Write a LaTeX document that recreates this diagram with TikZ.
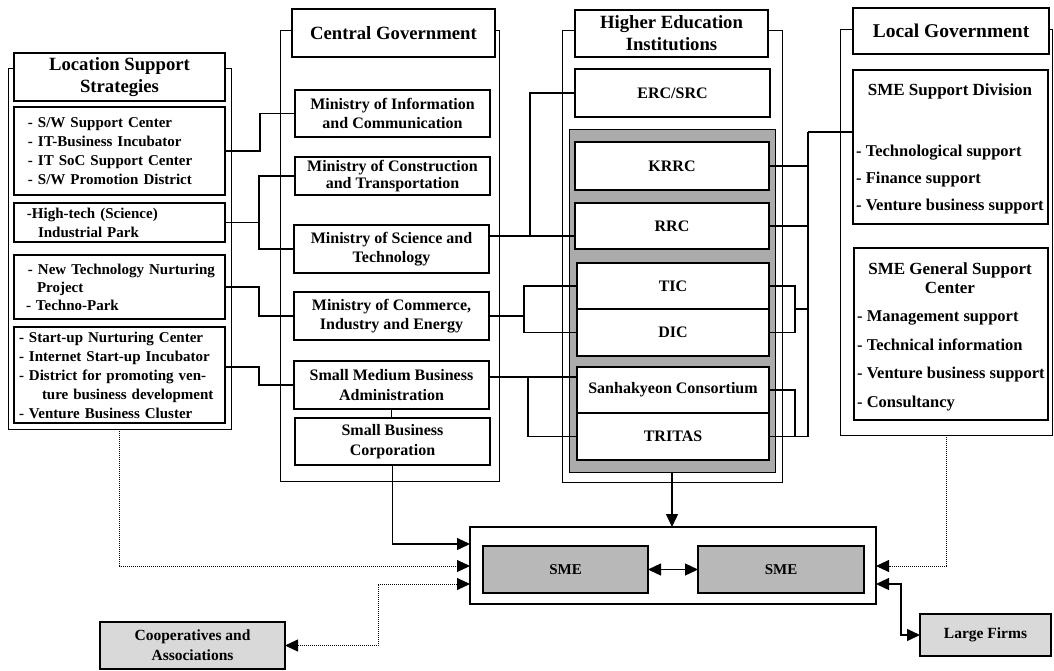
\documentclass[tikz,border=0pt]{standalone}
\usepackage{fontspec}
\setmainfont{Liberation Serif}
\usetikzlibrary{arrows.meta,calc}
\newcommand\ind[1]{\hspace*{#1pt}}
\tikzset{
  wh/.style 2 args={minimum width=#1pt, minimum height=#2pt},
  box/.style={draw, line width=1.3pt, fill=white, inner sep=0pt, outer sep=0pt, anchor=north west, align=center, font=\fontsize{16}{19.5}\selectfont\bfseries},
  cont/.style={draw, line width=1pt, inner sep=0pt, outer sep=0pt, anchor=north west},
  hdr/.style={box, font=\fontsize{18.7}{22}\selectfont\bfseries},
  item/.style={box, align=left, inner xsep=2pt, text width=207pt, font=\fontsize{15}{19}\selectfont\bfseries},
  inbox/.style={box, line width=1.8pt},
  gbox/.style={box, fill=black!28, font=\fontsize{15}{18}\selectfont\bfseries},
  lbox/.style={box, fill=black!15, font=\fontsize{15.5}{20}\selectfont\bfseries},
  ltitle/.style={inner sep=0pt, align=center, font=\fontsize{17}{19}\selectfont\bfseries},
  litem/.style={inner sep=0pt, anchor=west, align=left},
  conn/.style={line width=1.3pt},
  tri/.tip={Triangle[length=13pt,width=12pt]},
  sarr/.style={line width=1.3pt, -tri},
  darr/.style={line width=1pt, densely dotted, -tri},
}
\begin{document}
\begin{tikzpicture}[x=1pt,y=-1pt]
\useasboundingbox (0,0) rectangle (1054,670);
% containers
\node[cont, wh={223}{361}] (lss) at (8,68) {};
\node[cont, wh={219}{451}] (cen) at (280,30) {};
\node[cont, wh={220}{452}] (hei) at (562,30) {};
\node[cont, wh={212}{406}] (loc) at (840,29) {};
% headers
\node[hdr, wh={211}{48}] (lssh) at (14,53) {Location Support\\Strategies};
\node[hdr, wh={203}{48}] (cenh) at (292,9) {Central Government};
\node[hdr, wh={193}{47}] (heih) at (575,10) {Higher Education\\Institutions};
\node[hdr, wh={196}{46}, font=\fontsize{19.5}{22}\selectfont\bfseries] (loch) at (853,8) {Local Government};
% location support strategies
\node[item, minimum height=88pt] (lss1) at (14,107) {\ind{12}- S/W Support Center\\\ind{12}- IT-Business Incubator\\\ind{12}- IT SoC Support Center\\\ind{12}- S/W Promotion District};
\node[item, minimum height=39pt] (lss2) at (14,203) {\ind{11}-High-tech (Science)\\\ind{22}Industrial Park};
\node[item, minimum height=64pt, font=\fontsize{15}{18}\selectfont\bfseries] (lss3) at (14,255) {\ind{12}- New Technology Nurturing\\\ind{21}Project\\\ind{10}- Techno-Park};
\node[item, minimum height=96pt] (lss4) at (14,327) {\ind{3}- Start-up Nurturing Center\\\ind{3}- Internet Start-up Incubator\\\ind{3}- District for promoting ven-\\\ind{26}ture business development\\\ind{3}- Venture Business Cluster};
% central government
\node[box, wh={195}{47}] (mic) at (295,90) {Ministry of Information\\and Communication};
\node[box, wh={195}{38}, font=\fontsize{16}{17}\selectfont\bfseries] (mct) at (295,157) {Ministry of Construction\\and Transportation};
\node[box, wh={195}{48}] (mst) at (294,225) {Ministry of Science and\\Technology};
\node[box, wh={195}{48}] (mcie) at (294,292) {Ministry of Commerce,\\Industry and Energy};
\node[box, wh={195}{48}] (smba) at (294,361) {Small Medium Business\\Administration};
\node[box, wh={195}{47}] (sbc) at (295,418) {Small Business\\Corporation};
% higher education institutions
\node[box, wh={195}{48}] (erc) at (575,69) {ERC/SRC};
\node[draw, line width=1pt, fill=black!33, anchor=north west, inner sep=0pt, outer sep=0pt, wh={206}{343}] (frame) at (569,129) {};
\node[inbox, wh={194}{48}] (krrc) at (575,142) {KRRC};
\node[inbox, wh={194}{46}] (rrc) at (575,203) {RRC};
\node[inbox, wh={192}{46}] (tic) at (577,263) {TIC};
\node[inbox, wh={192}{47}] (dic) at (577,309) {DIC};
\node[inbox, wh={192}{46}] (sank) at (577,367) {Sanhakyeon Consortium};
\node[inbox, wh={192}{47}] (tritas) at (577,413) {TRITAS};
% local government
\node[box, wh={195}{154}] (sd) at (853,70) {};
\node[ltitle] (sdt) at (950,91) {SME Support Division};
\node[litem, font=\fontsize{16.5}{27}\selectfont\bfseries] (sdi) at (856,180) {- Technological support\\- Finance support\\- Venture business support};
\node[box, wh={194}{172}] (gs) at (854,248) {};
\node[ltitle] (gst) at (950,278.5) {SME General Support\\Center};
\node[litem, font=\fontsize{16.5}{28.5}\selectfont\bfseries] (gsi) at (857,361) {- Management support\\- Technical information\\- Venture business support\\- Consultancy};
% bottom
\node[cont, wh={406}{77}, line width=1.2pt] (smec) at (470,527) {};
\node[gbox, wh={165}{47}] (sme1) at (483,546) {SME};
\node[gbox, wh={166}{47}] (sme2) at (698,546) {SME};
\node[lbox, wh={185}{47}] (coop) at (100,622) {Cooperatives and\\Associations};
\node[lbox, wh={131}{42}] (large) at (920,614) {Large Firms};
% connectors left -> central
\draw[conn] (lss1.east) -- ++(35,0) |- (mic.west);
\draw[conn] (lss2.east) -- ++(34,0);
\draw[conn] (mct.west) -- ++(-36,0) |- (mst.west);
\draw[conn] (lss3.east) -- ++(34,0) |- (mcie.west);
\draw[conn] ([yshift=8pt]lss4.east) -- ++(34,0) |- (smba.west);
\draw[conn] (smba.south) -- (smba.south |- sbc.north);
% central -> HEI
\coordinate (m1) at ([yshift=13pt]mst.east);
\draw[conn] (m1) -- (m1 -| rrc.west);
\path (m1) ++(41,0) coordinate (m2);
\draw[conn] (erc.west) -| (m2);
\draw[conn] (mcie.east) -- ++(35,0) coordinate (m3);
\draw[conn] (tic.west) -| (m3) |- (dic.west);
\coordinate (m4) at ([yshift=8pt]smba.east);
\draw[conn] (m4) -- (m4 -| sank.west);
\path (m4) ++(39,0) coordinate (m5);
\draw[conn] (m5) |- (tritas.west);
% HEI -> local
\draw[conn] (krrc.east) -- ++(39,0);
\draw[conn] (rrc.east) -- ++(39,0);
\draw[conn] (tic.east) -- ++(26,0) coordinate (r2) |- (dic.east);
\path (r2) ++(0,23) coordinate (r3);
\draw[conn] (r3) -- ++(13,0);
\draw[conn] (sank.east) -- ++(26,0) |- (tritas.east);
\draw[conn] (tritas.east) -- ++(39,0) coordinate (r4);
\coordinate (r0) at (808,132);
\draw[conn] (r0) -- (r4);
\draw[conn] (r0) -- (r0 -| sd.west);
% arrows to SME cluster
\draw[sarr] (frame.south) -- (frame.south |- smec.north);
\draw[sarr] (sbc.south) |- (smec.west |- 0,544);
\draw[darr] (lss.south) |- (smec.west |- 0,566);
\coordinate (k1) at (378,584);
\draw[darr, tri-tri] (coop.east) -| (k1) -- (smec.west |- k1);
\draw[darr] (loc.south) |- (smec.east |- 0,566);
\coordinate (k2) at (901,610);
\draw[sarr, tri-tri] (smec.east |- 0,584) -| (k2) |- (large.west);
\draw[sarr, tri-tri] (sme1.east) -- (sme2.west);
\end{tikzpicture}
\end{document}
